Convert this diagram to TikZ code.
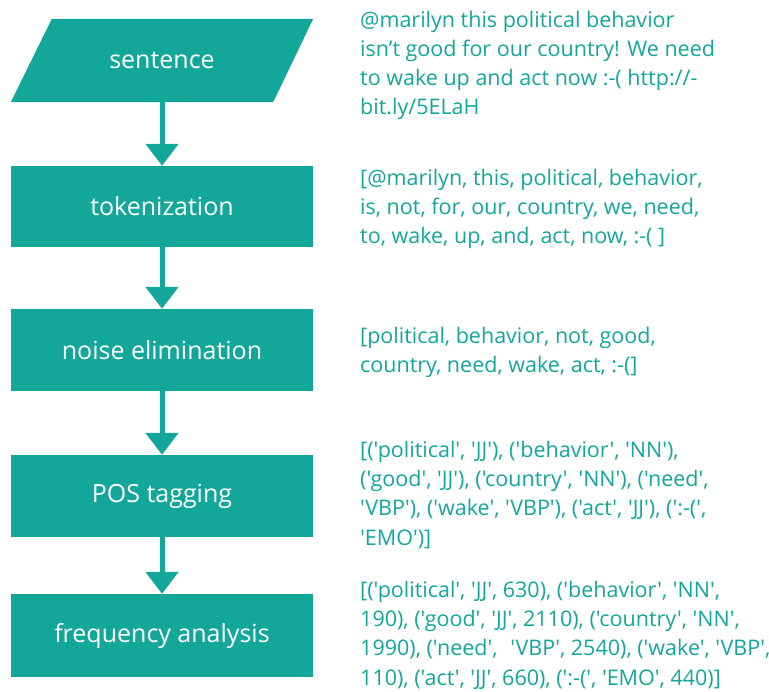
\documentclass[tikz,border=0pt]{standalone}
\usepackage{fontspec}
\newfontfamily\flowfont{Open Sans}
\usetikzlibrary{arrows.meta,backgrounds}
\definecolor{flowteal}{RGB}{19,167,153}

\begin{document}
\begin{tikzpicture}[x=1pt,y=-1pt,
  stepbox/.style={fill=flowteal, minimum width=302pt, minimum height=82pt,
    inner sep=0pt, text=white, font=\flowfont\fontsize{25}{30}\selectfont},
  inputbox/.style={stepbox, fill=none},
  flowarrow/.style={draw=flowteal, line width=5pt,
    -{Triangle[width=32pt,length=22pt]}},
  note/.style={anchor=base west, align=left, text=flowteal, inner sep=0pt,
    font=\flowfont\fontsize{21.5}{29.2}\selectfont}]

\useasboundingbox (0,0) rectangle (769,692);

% flow steps
\node[inputbox, minimum height=83pt] (sentence) at (162,60.5) {sentence};
\begin{scope}[on background layer]
  \fill[flowteal] ([xshift=41pt]sentence.north west) -- (sentence.north east)
    -- ([xshift=-40pt]sentence.south east) -- (sentence.south west) -- cycle;
\end{scope}
\node[stepbox, minimum height=81pt] (tok) at (162,206.5) {tokenization};
\node[stepbox] (noise) at (162,350) {noise elimination};
\node[stepbox] (pos) at (162,496) {POS tagging};
\node[stepbox, minimum height=83pt] (freq) at (162,635.5) {frequency analysis};

% connectors
\draw[flowarrow] (sentence.south) -- (tok.north);
\draw[flowarrow] (tok.south) -- (noise.north);
\draw[flowarrow] (noise.south) -- (pos.north);
\draw[flowarrow] (pos.south) -- (freq.north);

% example output of each step (placed by the baseline of the last line)
\node[note] (ex1) at (360,115) {@marilyn this political behavior\\
  isn’t good for our country! We need\\
  to wake up and act now :-( http://-\\
  bit.ly/5ELaH};
\node[note] (ex2) at (360,244) {[@marilyn, this, political, behavior,\\
  is, not, for, our, country, we, need,\\
  to, wake, up, and, act, now, :-( ]};
\node[note] (ex3) at (360,373) {[political, behavior, not, good,\\
  country, need, wake, act, :-(]};
\node[note] (ex4) at (360,545) {[('political', 'JJ'), ('behavior', 'NN'),\\
  ('good', 'JJ'), ('country', 'NN'), ('need',\\
  'VBP'), ('wake', 'VBP'), ('act', 'JJ'), (':-(',\\
  'EMO')]};
\node[note] (ex5) at (360,685) {[('political', 'JJ', 630), ('behavior', 'NN',\\
  190), ('good', 'JJ', 2110), ('country', 'NN',\\
  1990), ('need',\hspace{0.6em}'VBP', 2540), ('wake', 'VBP',\\
  110), ('act', 'JJ', 660), (':-(', 'EMO', 440)]};
\end{tikzpicture}
\end{document}
